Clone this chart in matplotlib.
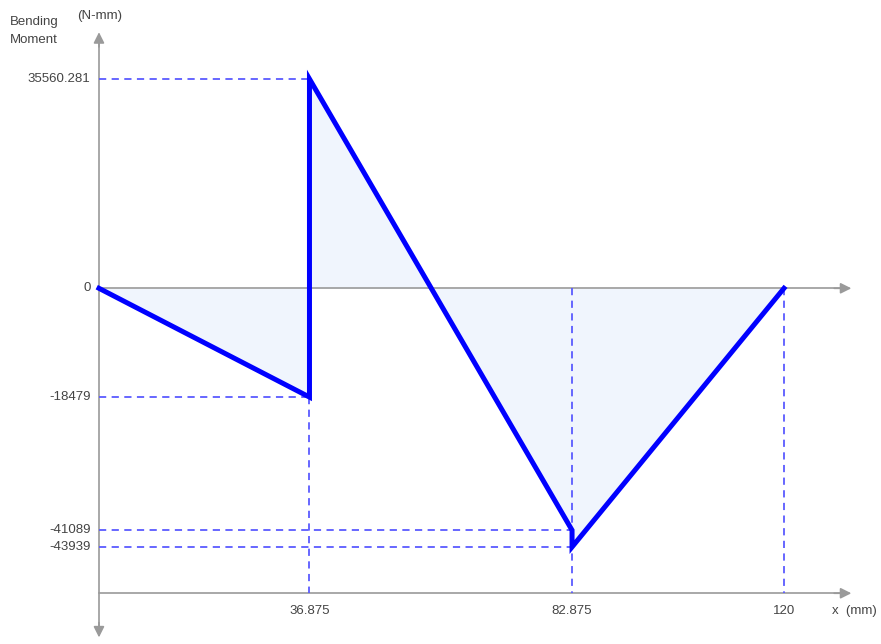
import matplotlib
matplotlib.use("Agg")
import matplotlib.pyplot as plt

# Data
x_pts = [0, 36.875, 36.875, 82.875, 82.875, 120]
m_pts = [0, -18479, 35560.281, -41089, -43939, 0]
y_ticks = [35560.281, 0, -18479, -41089, -43939]
y_tick_labels = ["35560.281", "0", "-18479", "-41089", "-43939"]
x_ticks = [36.875, 82.875, 120]
x_tick_labels = ["36.875", "82.875", "120"]

plt.rcParams['font.family'] = ['Liberation Sans', 'DejaVu Sans']

fig = plt.figure(figsize=(8.81, 6.44), dpi=100)
ax = fig.add_axes([0, 0, 1, 1])
ax.set_xlim(-17.34, 137.0)
ax.set_ylim(-60420, 48970)
ax.axis('off')

gray = '#9a9a9a'
dash_c = '#5a5aff'
txt_c = '#444444'
bottom_y = -51800
top_y = 43500
right_x = 131.8

# fill
ax.fill_between(x_pts, m_pts, 0, color='#f0f5fd', zorder=1, linewidth=0)

# axes lines
ax.plot([0, right_x - 2], [0, 0], color=gray, lw=1.2, zorder=2)
ax.plot([0, right_x - 2], [bottom_y, bottom_y], color=gray, lw=1.2, zorder=2)
ax.plot([0, 0], [-58000, top_y - 1500], color=gray, lw=1.2, zorder=2)
ap = dict(arrowstyle='-|>', color=gray, lw=1.2, mutation_scale=16, shrinkA=0, shrinkB=0)
ax.annotate('', xy=(right_x, 0), xytext=(right_x - 3, 0), arrowprops=ap)
ax.annotate('', xy=(right_x, bottom_y), xytext=(right_x - 3, bottom_y), arrowprops=ap)
ax.annotate('', xy=(0, top_y), xytext=(0, top_y - 2500), arrowprops=ap)
ax.annotate('', xy=(0, -59300), xytext=(0, -56800), arrowprops=ap)

# dashed guide lines
dkw = dict(color=dash_c, lw=1.3, ls=(0, (4, 3)), zorder=2)
ax.plot([0, x_pts[2]], [m_pts[2], m_pts[2]], **dkw)
ax.plot([0, x_pts[1]], [m_pts[1], m_pts[1]], **dkw)
ax.plot([0, x_pts[3]], [m_pts[3], m_pts[3]], **dkw)
ax.plot([0, x_pts[4]], [m_pts[4], m_pts[4]], **dkw)
ax.plot([x_pts[1], x_pts[1]], [m_pts[1], bottom_y], **dkw)
ax.plot([x_pts[3], x_pts[3]], [0, bottom_y], **dkw)
ax.plot([x_pts[5], x_pts[5]], [0, bottom_y], **dkw)

# main line
ax.plot(x_pts, m_pts, color='#0000ff', lw=3.6, zorder=4, solid_joinstyle='miter')

# tick labels
fs = 9.5
for v, lab in zip(y_ticks, y_tick_labels):
    ax.text(-1.5, v, lab, ha='right', va='center', fontsize=fs, color=txt_c)
for v, lab in zip(x_ticks, x_tick_labels):
    ax.text(v, bottom_y - 3000, lab, ha='center', va='center', fontsize=fs, color=txt_c)
ax.text(128.5, bottom_y - 3000, "x  (mm)", ha='left', va='center', fontsize=fs, color=txt_c)

fig.text(10/881, 1 - 22/644, "Bending", ha='left', va='center', fontsize=fs, color=txt_c)
fig.text(10/881, 1 - 40/644, "Moment", ha='left', va='center', fontsize=fs, color=txt_c)
fig.text(77/881, 1 - 16/644, "(N-mm)", ha='left', va='center', fontsize=fs, color=txt_c)

fig.savefig("out.png", dpi=100)
